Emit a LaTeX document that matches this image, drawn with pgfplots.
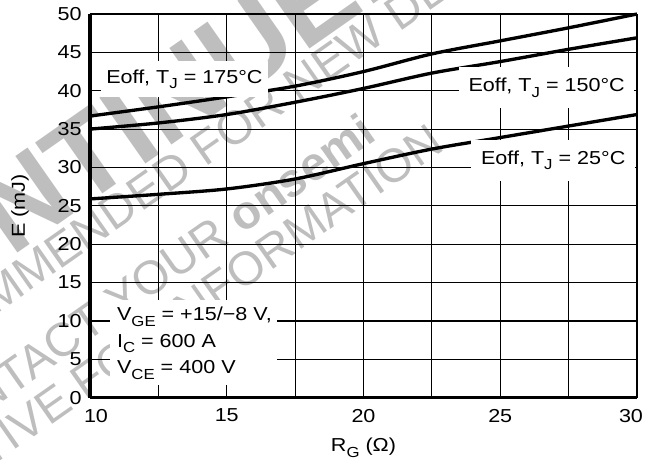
\documentclass[border=0pt]{standalone}
\usepackage{fontspec}
\setmainfont[FakeStretch=1.15]{Liberation Sans}
\newfontfamily\wmfont{Liberation Sans}
\usepackage{pgfplots}
\pgfplotsset{compat=1.18}
\definecolor{wm}{RGB}{190,190,190}
\newcommand{\lbl}{\fontsize{13.5}{16}\selectfont}
\newcommand{\sub}[1]{\raisebox{-4pt}{\fontsize{10.5}{11}\selectfont #1}}
\begin{document}
\begin{tikzpicture}
\useasboundingbox (-64.8pt,-49.9pt) rectangle (404.64pt,286.34pt);
% watermark, in image pixel coordinates
\begin{scope}[x=0.72pt,y=-0.72pt,shift={(-64.8pt,286.34pt)}]
  \node[wm, rotate=35, font=\wmfont\fontsize{84}{88}\selectfont\bfseries] at (50,182) {DISCONTINUED};
  \node[wm, rotate=35, font=\wmfont\fontsize{34}{40}\selectfont] at (160,180) {NOT RECOMMENDED FOR NEW DESIGN};
  \node[wm, rotate=35, font=\wmfont\fontsize{34}{40}\selectfont] at (142,284) {CONTACT YOUR \textbf{onsemi}};
  \node[wm, rotate=35, font=\wmfont\fontsize{34}{40}\selectfont] at (80,385) {REPRESENTATIVE FOR INFORMATION};
\end{scope}
\begin{axis}[
  scale only axis, width=393.84pt, height=276.26pt,
  xmin=10, xmax=30, ymin=0, ymax=50,
  xtick={10,15,20,25,30},
  xticklabels={\hphantom{0}10,15,20,25,30\hphantom{0}},
  minor xtick={12.5,17.5,22.5,27.5},
  ytick={0,5,...,50},
  grid=both,
  grid style={black, line width=0.8pt},
  minor grid style={black, line width=0.8pt},
  major tick length=0pt, minor tick length=0pt,
  axis x line*=bottom, axis y line*=left,
  axis line style={line width=2.2pt, -},
  ticklabel style={font=\lbl, inner sep=0pt},
  /pgf/number format/assume math mode=true,
  yticklabel style={xshift=-5.8pt},
  xticklabel style={yshift=-8pt},
  xlabel={R\sub{G} (Ω)},
  ylabel={E (mJ)},
  label style={font=\lbl},
  xlabel style={at={(axis description cs:0.5,0)}, anchor=center, yshift=-36.2pt},
  ylabel style={at={(axis description cs:-0.128,0.5)}, anchor=center},
  clip=false,
]
\addplot[black, line width=2.4pt, smooth, tension=0.5] coordinates {
  (10,36.7) (12.5,37.9) (15,39.2) (17.5,40.6) (20,42.5) (22.5,44.8) (25,46.5) (27.5,48.2) (30,50.0)};
\addplot[black, line width=2.4pt, smooth, tension=0.5] coordinates {
  (10,35.0) (12.5,35.8) (15,36.9) (17.5,38.5) (20,40.3) (22.5,42.3) (25,43.8) (27.5,45.4) (30,46.9)};
\addplot[black, line width=2.4pt, smooth, tension=0.5] coordinates {
  (10,25.9) (12.5,26.5) (15,27.2) (17.5,28.5) (20,30.5) (22.5,32.4) (25,33.9) (27.5,35.4) (30,36.9)};
\node[fill=white, anchor=base west, inner xsep=4pt, inner ysep=6pt, xshift=-4pt, font=\lbl]
  at (axis cs:10.585,40.97) {Eoff, T\sub{J} = 175°C};
\node[fill=white, anchor=base west, inner xsep=7pt, inner ysep=8pt, xshift=-7pt, font=\lbl]
  at (axis cs:23.83,39.88) {Eoff, T\sub{J} = 150°C};
\node[fill=white, anchor=base west, inner xsep=7pt, inner ysep=8pt, xshift=-7pt, font=\lbl]
  at (axis cs:24.29,30.41) {Eoff, T\sub{J} = 25°C};
\fill[white] (axis cs:10.73,1.67) rectangle (axis cs:16.84,12.72);
\node[anchor=base west, inner sep=0pt, font=\lbl] at (axis cs:10.98,10.03) {V\sub{GE} = +15/−8 V,};
\node[anchor=base west, inner sep=0pt, font=\lbl] at (axis cs:10.98,6.57) {I\sub{C} = 600 A};
\node[anchor=base west, inner sep=0pt, font=\lbl] at (axis cs:10.98,3.09) {V\sub{CE} = 400 V};
\end{axis}
\end{tikzpicture}
\end{document}
